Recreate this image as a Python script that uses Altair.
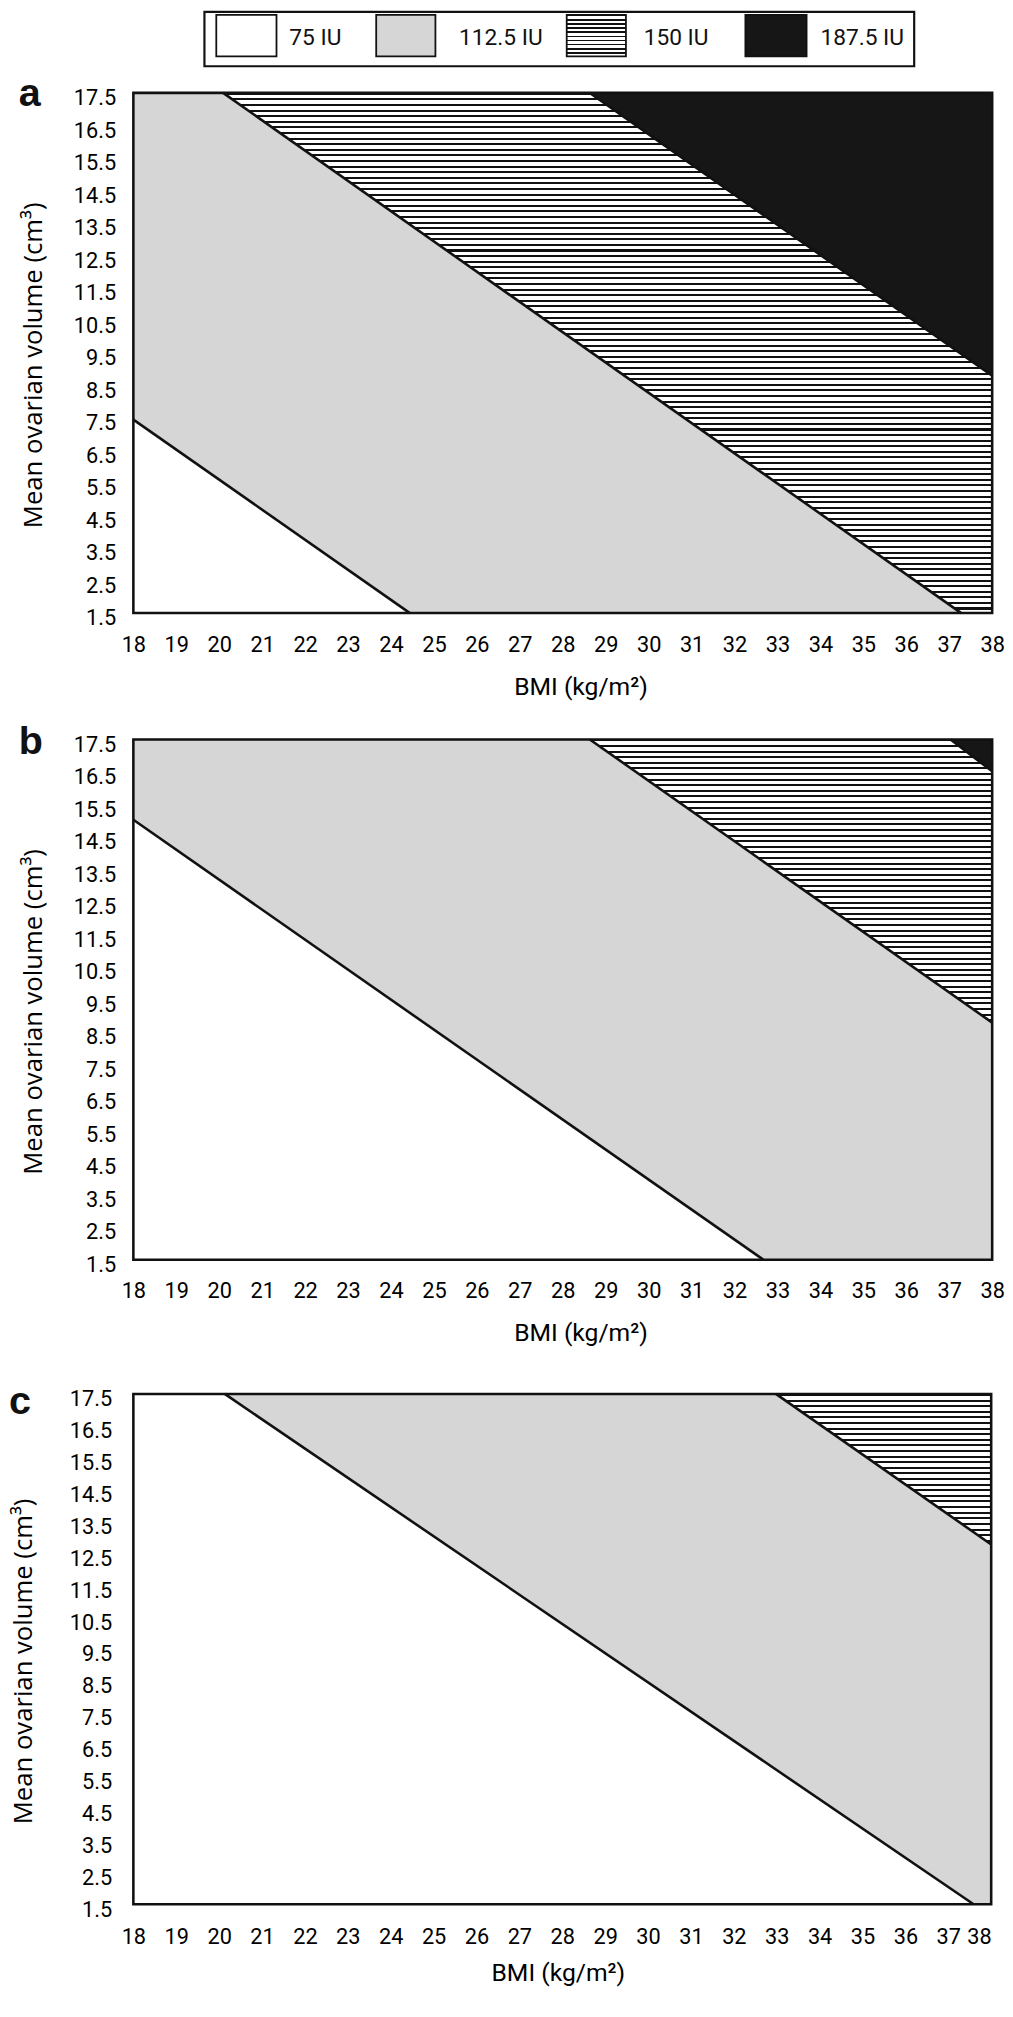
import altair as alt
import pandas as pd

# ---------------- data ----------------
doses = ["75 IU", "112.5 IU", "150 IU", "187.5 IU"]
dose_fills = ["#ffffff", "#d6d6d6", "#ffffff", "#161616"]

x_ticks = list(range(18, 39))
y_ticks = [1.5, 2.5, 3.5, 4.5, 5.5, 6.5, 7.5, 8.5, 9.5, 10.5, 11.5,
           12.5, 13.5, 14.5, 15.5, 16.5, 17.5]
x_min, x_max = 18.0, 38.0
y_min, y_max = 1.5, 17.5

# boundary k separates doses[k] (below) from doses[k+1] (above)
a_bmi_start = [18.0, 20.09, 28.63]
a_vol_start = [7.45, 17.5, 17.5]
a_bmi_end = [24.44, 37.28, 38.0]
a_vol_end = [1.5, 1.5, 8.8]

b_bmi_start = [18.0, 28.63, 37.03]
b_vol_start = [15.03, 17.5, 17.5]
b_bmi_end = [32.67, 38.0, 38.0]
b_vol_end = [1.5, 8.79, 16.52]

c_bmi_start = [20.13, 32.98]
c_vol_start = [17.5, 17.5]
c_bmi_end = [37.59, 38.0]
c_vol_end = [1.5, 12.78]

# ---------------- styling / layout constants ----------------
TICK_FONT = "Roboto"
YTITLE_FONT = "Open Sans"
BLACK = "#111111"
# legend layout (pixels relative to panel a's plot area)
LEG_BOX = (72, 791, -82, -27)
LEG_SWATCH_X = [(84, 145), (246, 306), (439, 499), (620, 682)]
LEG_SWATCH_Y = (-79, -37)
LEG_LABEL_X = [158, 330, 517, 696]
LEG_LABEL_Y = -56
PAD = {"left": 0, "top": -11, "right": 0, "bottom": 0}


def hatch(n, frac=0.36):
    stops = []
    for i in range(n):
        a = i / n
        b = (i + frac) / n
        c = (i + 1) / n
        stops += [
            alt.GradientStop(offset=a, color=BLACK),
            alt.GradientStop(offset=b, color=BLACK),
            alt.GradientStop(offset=b, color="#ffffff"),
            alt.GradientStop(offset=c, color="#ffffff"),
        ]
    return alt.LinearGradient(gradient="linear", stops=stops,
                              x1=0, x2=0, y1=0, y2=1)


def fill_for(dose, n_stripes):
    if dose == "150 IU":
        return hatch(n_stripes)
    return dose_fills[doses.index(dose)]


def panel(letter, bs, vs, be, ve, width, height, ylabpad, ytitle_x,
          xlabpad, xtitle_x, xtitle_y, label_x, label_y, legend=False,
          last_right=False):
    xs = alt.Scale(domain=[x_min, x_max], nice=False, zero=False)
    ys = alt.Scale(domain=[y_min, y_max], nice=False, zero=False)
    xalign = "center"
    if last_right:
        xalign = {"condition": {"test": f"datum.value >= {x_max}",
                                "value": "right"}, "value": "center"}
    xaxis = alt.Axis(values=x_ticks, format="d", ticks=False, tickSize=0,
                     domain=False, grid=False, labelFont=TICK_FONT,
                     labelFontSize=22, labelColor="black",
                     labelBaseline="middle", labelPadding=xlabpad,
                     labelAlign=xalign,
                     labelOverlap=False, labelFlush=False,
                     title="BMI (kg/m²)", titleFont=TICK_FONT,
                     titleFontSize=25, titleFontWeight="normal",
                     titleColor="black", titleX=xtitle_x, titleY=xtitle_y,
                     titleAlign="center", titleBaseline="alphabetic")
    yaxis = alt.Axis(values=y_ticks, format=".1f", ticks=False, tickSize=0,
                     domain=False, grid=False, labelFont=TICK_FONT,
                     labelFontSize=22, labelColor="black",
                     labelPadding=ylabpad, labelOffset=5,
                     labelOverlap=False, labelFlush=False,
                     title="Mean ovarian volume (cm³)", titleFont=YTITLE_FONT,
                     titleFontSize=26, titleFontWeight="normal",
                     titleColor="black", titleAngle=270, titleX=ytitle_x,
                     titleY=height / 2 + 12, titleAlign="center",
                     titleBaseline="middle")

    def X(field):
        return alt.X(field, scale=xs, axis=xaxis)

    def Y(field):
        return alt.Y(field, scale=ys, axis=yaxis)

    n_stripes = round(height / 5.67)
    top_dose = doses[len(bs)]
    frame_df = pd.DataFrame({"x0": [x_min], "x1": [x_max],
                             "y0": [y_min], "y1": [y_max]})

    layers = []
    layers.append(
        alt.Chart(frame_df).mark_rect(fill=fill_for(top_dose, n_stripes))
        .encode(x=X("x0:Q"), x2="x1:Q", y=Y("y0:Q"), y2="y1:Q")
    )
    for k in reversed(range(len(bs))):
        pts_x, pts_y = [], []
        if bs[k] > x_min:
            pts_x.append(x_min)
            pts_y.append(y_max)
        pts_x += [bs[k], be[k]]
        pts_y += [vs[k], ve[k]]
        if be[k] < x_max:
            pts_x.append(x_max)
            pts_y.append(y_min)
        df = pd.DataFrame({"bmi": pts_x, "vol": pts_y})
        layers.append(
            alt.Chart(df).mark_area(fill=fill_for(doses[k], n_stripes),
                                    interpolate="linear")
            .encode(x=X("bmi:Q"), y=Y("vol:Q"), y2=alt.datum(y_min))
        )
    rows = []
    for k in range(len(bs)):
        rows.append({"id": k, "bmi": bs[k], "vol": vs[k]})
        rows.append({"id": k, "bmi": be[k], "vol": ve[k]})
    lines_df = pd.DataFrame(rows)
    layers.append(
        alt.Chart(lines_df).mark_line(color=BLACK, strokeWidth=2.6)
        .encode(x=X("bmi:Q"), y=Y("vol:Q"), detail="id:N")
    )
    layers.append(
        alt.Chart(frame_df).mark_rect(fillOpacity=0, stroke=BLACK,
                                      strokeWidth=2.6)
        .encode(x=X("x0:Q"), x2="x1:Q", y=Y("y0:Q"), y2="y1:Q")
    )
    layers.append(
        alt.Chart(frame_df).mark_text(text=letter, font="Liberation Sans",
                                      fontSize=40, fontWeight="bold",
                                      align="left", baseline="alphabetic",
                                      color=BLACK)
        .encode(x=alt.value(label_x), y=alt.value(label_y))
    )
    if legend:
        bx0, bx1, by0, by1 = LEG_BOX
        layers.append(
            alt.Chart(frame_df).mark_rect(fill="white", stroke=BLACK,
                                          strokeWidth=2.2)
            .encode(x=alt.value(bx0), x2=alt.value(bx1),
                    y=alt.value(by0), y2=alt.value(by1))
        )
        for i, dose in enumerate(doses):
            sx0, sx1 = LEG_SWATCH_X[i]
            sy0, sy1 = LEG_SWATCH_Y
            layers.append(
                alt.Chart(frame_df).mark_rect(fill=fill_for(dose, 10),
                                              stroke=BLACK, strokeWidth=1.8)
                .encode(x=alt.value(sx0), x2=alt.value(sx1),
                        y=alt.value(sy0), y2=alt.value(sy1))
            )
            layers.append(
                alt.Chart(frame_df).mark_text(text=dose, font=TICK_FONT,
                                              fontSize=23, align="left",
                                              baseline="middle", color=BLACK)
                .encode(x=alt.value(LEG_LABEL_X[i]), y=alt.value(LEG_LABEL_Y))
            )
    return alt.layer(*layers).properties(width=width, height=height)


pa = panel("a", a_bmi_start, a_vol_start, a_bmi_end, a_vol_end, 870, 527,
           18, -101, 32, 453, 82, -116, 13, legend=True)
pb = panel("b", b_bmi_start, b_vol_start, b_bmi_end, b_vol_end, 870, 527,
           18, -101, 31, 453, 82, -116, 15)
pc = panel("c", c_bmi_start, c_vol_start, c_bmi_end, c_vol_end, 869, 517,
           22, -111, 33, 430, 77, -126, 20, last_right=True)

inner = alt.concat(pa, pb, columns=1, spacing=22, align="none")
chart = alt.concat(inner, pc, columns=1, spacing=35, align="none").properties(
    padding=PAD,
    background="white",
).configure(padding=PAD).configure_view(
    stroke="transparent").configure_axis(labelOverlap=False)

chart.save("out.html", embed_options={"renderer": "svg", "actions": False})
